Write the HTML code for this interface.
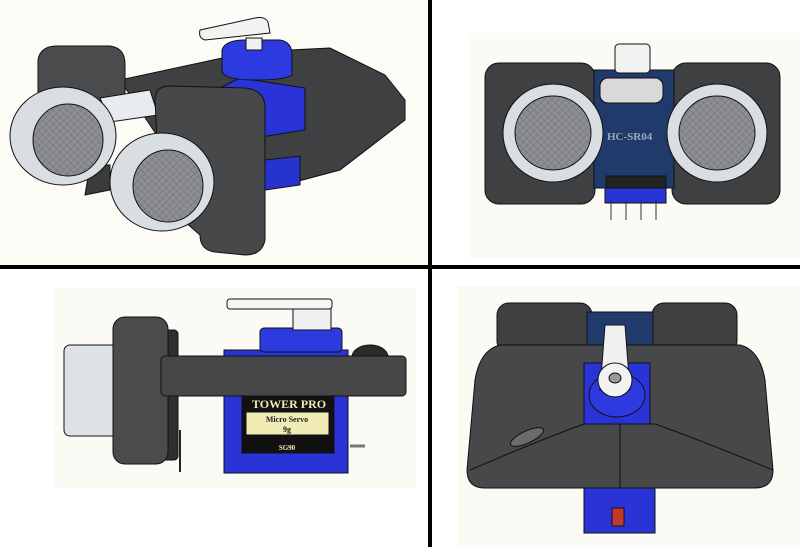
<!DOCTYPE html>
<html><head><meta charset="utf-8"><style>
html,body{margin:0;padding:0;background:#fff;width:800px;height:547px;overflow:hidden}
svg{display:block}
text{font-family:"Liberation Serif",serif;font-weight:bold}
</style></head><body>
<svg width="800" height="547" viewBox="0 0 800 547" xmlns="http://www.w3.org/2000/svg">
<defs>
<pattern id="mesh" width="5" height="5" patternUnits="userSpaceOnUse" patternTransform="rotate(45)">
<rect width="5" height="5" fill="#8d8f92"/><path d="M0 0H5M0 0V5" stroke="#6e7073" stroke-width="1"/>
</pattern>
</defs>
<rect x="0" y="0" width="430" height="267" fill="#fcfbf6"/>
<rect x="469" y="33" width="331" height="225" fill="#fbfaf5"/>
<rect x="55" y="288" width="361" height="200" fill="#fbfaf5"/>
<rect x="457" y="286" width="343" height="261" fill="#fbfaf5"/>

<!-- ===== Q1 ===== -->
<g stroke="#111" stroke-width="1">
<path d="M120 80 L250 52 L330 48 L385 75 L405 100 L405 120 L340 170 L265 190 L200 200 Z" fill="#3f4042"/>
<path d="M38 60 Q40 47 55 46 L110 46 Q125 48 125 64 L125 100 L60 110 L38 100 Z" fill="#4a4b4d"/>
<path d="M85 195 L110 190 L110 165 L90 165 Z" fill="#3a3b3d"/>
<path d="M178 108 L240 78 L305 88 L305 130 L255 138 L178 120 Z" fill="#2a34d6"/>
<path d="M265 160 L300 156 L300 185 L265 190 Z" fill="#2633cc"/>
<path d="M222 50 Q225 40 245 40 L280 40 Q292 42 292 55 L292 75 Q285 80 255 80 Q225 80 222 72 Z" fill="#2d3ae0"/>
<path d="M246 38 L262 38 L262 50 L246 50 Z" fill="#f0f0f0"/>
<path d="M200 30 L255 18 Q265 16 268 22 L270 33 L205 40 Q198 38 200 30 Z" fill="#f2f2f2"/>
<path d="M100 98 L150 90 L158 115 L110 122 Z" fill="#e8ecef"/>
<path d="M155 100 Q155 86 170 86 L245 88 Q265 90 265 108 L265 240 Q262 255 245 255 L215 252 Q200 250 200 235 L160 200 Z" fill="#47484a"/>
<ellipse cx="63" cy="136" rx="53" ry="49" fill="#d9dee2"/>
<ellipse cx="68" cy="140" rx="35" ry="36" fill="url(#mesh)"/>
<ellipse cx="162" cy="182" rx="52" ry="49" fill="#d9dee2"/>
<ellipse cx="168" cy="186" rx="35" ry="36" fill="url(#mesh)"/>
</g>

<!-- ===== Q2 ===== -->
<g stroke="#111" stroke-width="1">
<rect x="485" y="63" width="110" height="141" rx="14" fill="#3f4042"/>
<rect x="672" y="63" width="108" height="141" rx="14" fill="#3f4042"/>
<rect x="594" y="70" width="80" height="118" fill="#1f3a6b"/>
<rect x="615" y="44" width="35" height="29" rx="4" fill="#f2f2f2"/>
<rect x="600" y="78" width="63" height="25" rx="8" fill="#d9d9d9"/>
<rect x="605" y="188" width="61" height="15" fill="#2a34d6"/>
<g stroke="#333"><line x1="611" y1="200" x2="611" y2="220"/><line x1="626" y1="200" x2="626" y2="220"/><line x1="641" y1="200" x2="641" y2="220"/><line x1="656" y1="200" x2="656" y2="220"/></g>
<rect x="606" y="176" width="60" height="12" fill="#222"/>
<ellipse cx="553" cy="133" rx="50" ry="49" fill="#d9dee2"/>
<ellipse cx="553" cy="133" rx="38" ry="37" fill="url(#mesh)"/>
<ellipse cx="717" cy="133" rx="50" ry="49" fill="#d9dee2"/>
<ellipse cx="717" cy="133" rx="38" ry="37" fill="url(#mesh)"/>
</g>
<text x="607" y="140" font-size="11" fill="#9ab" font-family="Liberation Sans" font-weight="normal">HC-SR04</text>

<!-- ===== Q3 ===== -->
<g stroke="#111" stroke-width="1">
<rect x="64" y="345" width="58" height="91" rx="6" fill="#dfe2e5"/>
<rect x="160" y="330" width="18" height="130" rx="4" fill="#2e2f31"/>
<rect x="113" y="317" width="55" height="147" rx="12" fill="#4a4b4d"/>
<rect x="224" y="350" width="124" height="123" fill="#2a34d6"/>
<rect x="260" y="328" width="82" height="24" rx="4" fill="#2d3ae0"/>
<rect x="293" y="300" width="38" height="30" fill="#f0f0f0"/>
<rect x="227" y="299" width="105" height="10" rx="3" fill="#f6f6f6"/>
<ellipse cx="370" cy="357" rx="18" ry="12" fill="#2a2a2a"/>
<rect x="242" y="396" width="92" height="57" fill="#111"/>
<rect x="246" y="412" width="83" height="23" fill="#f1ebb5"/>
<rect x="161" y="356" width="245" height="40" rx="4" fill="#464749"/>
<line x1="180" y1="430" x2="180" y2="472" stroke="#222" stroke-width="2"/>
<line x1="350" y1="446" x2="365" y2="446" stroke="#777" stroke-width="3"/>
</g>
<text x="252" y="408" font-size="12" fill="#f1ebb5">TOWER PRO</text>
<text x="287" y="422" font-size="8" fill="#222" text-anchor="middle">Micro Servo</text>
<text x="287" y="432" font-size="8" fill="#222" text-anchor="middle">9g</text>
<text x="287" y="450" font-size="7" fill="#f1ebb5" text-anchor="middle">SG90</text>

<!-- ===== Q4 ===== -->
<g stroke="#111" stroke-width="1">
<rect x="584" y="485" width="71" height="48" fill="#2a34d6"/>
<rect x="612" y="508" width="12" height="18" fill="#c0392b"/>
<rect x="497" y="303" width="95" height="50" rx="12" fill="#3f4042"/>
<rect x="652" y="303" width="85" height="50" rx="12" fill="#3f4042"/>
<rect x="587" y="312" width="66" height="35" fill="#1f3a6b"/>
<path d="M500 345 L740 345 Q760 350 765 380 L773 470 Q773 488 755 488 L485 488 Q467 488 467 470 L475 380 Q480 350 500 345 Z" fill="#47484a"/>
<rect x="584" y="363" width="66" height="61" fill="#2a34d6"/>
<ellipse cx="617" cy="395" rx="28" ry="22" fill="#2d3ae0"/>
<path d="M605 325 L625 325 L630 390 L600 390 Z" fill="#f0f0f0"/>
<ellipse cx="615" cy="380" rx="17" ry="17" fill="#f2f2f2"/>
<ellipse cx="615" cy="378" rx="6" ry="5" fill="#999"/>
<path d="M470 470 Q540 440 584 424 L655 424 Q700 440 773 470" fill="none"/>
<line x1="620" y1="424" x2="620" y2="488"/>
<ellipse cx="527" cy="437" rx="18" ry="6" transform="rotate(-25 527 437)" fill="#6a6b6d"/>
</g>

<rect x="428" y="0" width="4" height="547" fill="#000"/>
<rect x="0" y="265" width="800" height="4" fill="#000"/>
</svg>
</body></html>
